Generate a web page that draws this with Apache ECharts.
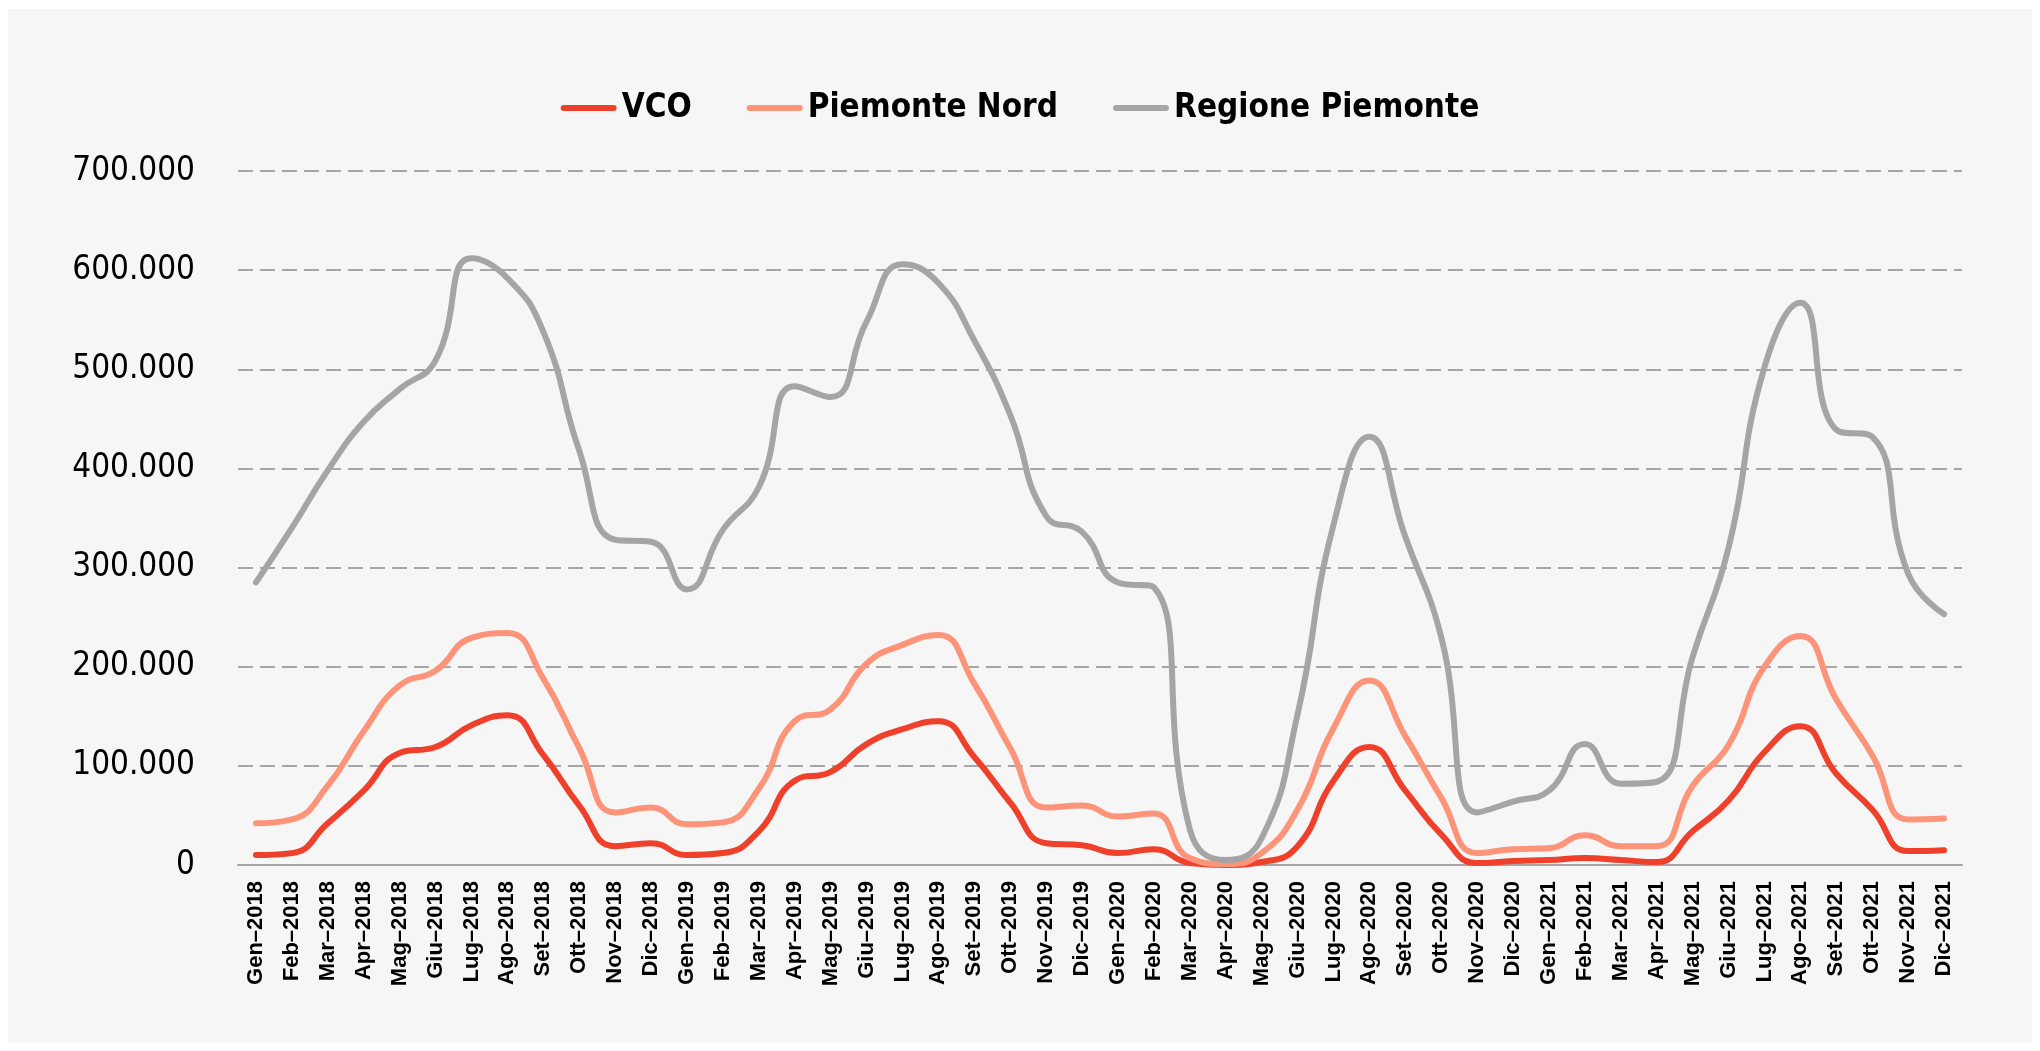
<!DOCTYPE html>
<html>
<head>
<meta charset="utf-8">
<script src="https://cdn.jsdelivr.net/npm/echarts@6/dist/echarts.min.js"></script>
<style>
  html, body { margin: 0; padding: 0; background: #ffffff; }
  #panel { position: absolute; left: 8px; top: 9px; width: 2024px; height: 1034px; background: #f6f6f6; }
  #chart { position: absolute; left: 0; top: 0; width: 2040px; height: 1051px; }
</style>
</head>
<body>
<div id="panel"></div>
<div id="chart"></div>
<script>
// mesi gen 2018 - dic 2021
const months = ["Gen", "Feb", "Mar", "Apr", "Mag", "Giu", "Lug", "Ago", "Set", "Ott", "Nov", "Dic"];
const years = [2018, 2019, 2020, 2021];
const categories = [];
years.forEach(y => months.forEach(m => categories.push(m + "–" + y)));

const vco = [
  10000, 12000, 42000, 75000, 113000, 119000, 141000, 151000, 111000, 60000, 19000, 22000,
  10000, 12000, 34000, 85000, 94000, 122000, 137000, 145000, 109000, 63000, 22000, 20000,
  12000, 16000, 2000, 0, 3000, 19000, 85000, 119000, 75000, 31000, 2000, 4000,
  5000, 7000, 5000, 3000, 34000, 65000, 114000, 140000, 92000, 56000, 14000, 15000
];
const piemonteNord = [
  42000, 46000, 80000, 135000, 181000, 196000, 229000, 234000, 188000, 118000, 53000, 58000,
  41000, 43000, 77000, 145000, 157000, 203000, 222000, 232000, 183000, 118000, 58000, 60000,
  49000, 52000, 7000, 1000, 12000, 56000, 138000, 186000, 130000, 68000, 12000, 16000,
  17000, 30000, 19000, 19000, 80000, 121000, 200000, 231000, 167000, 111000, 46000, 47000
];
const regionePiemonte = [
  285000, 340000, 398000, 447000, 480000, 509000, 612000, 592000, 538000, 418000, 328000, 326000,
  278000, 338000, 381000, 483000, 472000, 548000, 606000, 587000, 529000, 454000, 352000, 336000,
  285000, 280000, 36000, 5000, 27000, 152000, 343000, 432000, 331000, 230000, 53000, 64000,
  75000, 122000, 82000, 84000, 210000, 320000, 502000, 567000, 439000, 432000, 294000, 253000
];

const fmt = v => String(v).replace(/\B(?=(\d{3})+(?!\d))/g, ".");

const condensed = "'Liberation Sans Narrow', 'DejaVu Sans Condensed', sans-serif";

const myChart = echarts.init(document.getElementById("chart"));

const mkSeries = (name, data, color) => ({
  name: name,
  type: "line",
  data: data,
  smooth: 0.5,
  symbol: "none",
  lineStyle: { color: color, width: 6, cap: "round", join: "round" },
  itemStyle: { color: color }
});

const option = {
  backgroundColor: "transparent",
  animation: false,
  legend: {
    top: 84,
    left: "center",
    icon: "path://M3,0 L53,0 A3,3 0 0 1 53,6 L3,6 A3,3 0 0 1 3,0 Z",
    itemWidth: 56,
    itemHeight: 6,
    itemGap: 55,
    textStyle: {
      fontFamily: condensed,
      fontWeight: "bold",
      fontSize: 33,
      lineHeight: 38,
      color: "#000"
    }
  },
  grid: { left: 238, right: 78, top: 171, bottom: 186, containLabel: false },
  xAxis: {
    type: "category",
    data: categories,
    boundaryGap: true,
    axisLine: { lineStyle: { color: "#a6a6a6", width: 2 } },
    axisTick: { alignWithLabel: true, length: 6, lineStyle: { color: "#a6a6a6", width: 2 } },
    axisLabel: {
      interval: 0,
      rotate: 90,
      margin: 16,
      fontFamily: "'Liberation Sans', Arial, sans-serif",
      fontWeight: "bold",
      fontSize: 22,
      color: "#000"
    }
  },
  yAxis: {
    type: "value",
    min: 0,
    max: 700000,
    interval: 100000,
    axisLine: { show: false },
    axisTick: { show: false },
    axisLabel: {
      margin: 43,
      formatter: fmt,
      fontFamily: condensed,
      fontSize: 33,
      color: "#000"
    },
    splitLine: { lineStyle: { color: "#a6a6a6", width: 2, type: [15, 7] } }
  },
  series: [
    mkSeries("VCO", vco, "#ee402b"),
    mkSeries("Piemonte Nord", piemonteNord, "#fc9479"),
    mkSeries("Regione Piemonte", regionePiemonte, "#a5a5a5")
  ]
};

option && myChart.setOption(option);
</script>
</body>
</html>
